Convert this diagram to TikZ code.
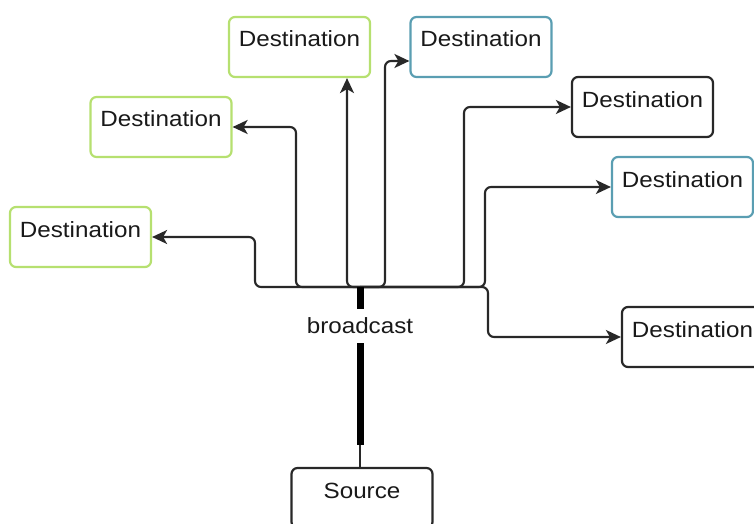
\documentclass[tikz,border=0pt]{standalone}
\usepackage{fontspec}
\setmainfont{Liberation Sans}[FakeStretch=1.1]
\usetikzlibrary{arrows.meta,calc}
\definecolor{grn}{RGB}{182,224,112}
\definecolor{blu}{RGB}{90,158,178}
\definecolor{blk}{RGB}{40,40,40}
\definecolor{txt}{RGB}{25,25,25}
\begin{document}
\begin{tikzpicture}[x=1pt,y=-1pt,
  box/.style={draw, line width=2.2pt, rounded corners=6pt, minimum width=141pt,
    minimum height=60pt, inner sep=0pt, fill=white, text=txt,
    font=\fontsize{22}{26}\selectfont},
  gbox/.style={box, draw=grn},
  bbox/.style={box, draw=blu},
  kbox/.style={box, draw=blk},
  conn/.style={line width=2.1pt, draw=blk, rounded corners=6pt,
    -{Stealth[length=15pt,width=14pt,inset=4pt]}},
  bus/.style={line width=7pt, draw=black},
  lbl/.style={inner xsep=0pt, inner ysep=9pt, text=txt, font=\fontsize{22}{26}\selectfont}]
\useasboundingbox (0,0) rectangle (754,524);

\node[gbox] (d1) at (299.5,47) {\smash{Destination}};
\node[bbox] (d2) at (481,47) {\smash{Destination}};
\node[gbox] (d3) at (161,127) {\smash{Destination}};
\node[gbox] (d4) at (80.5,237) {\smash{Destination}};
\node[kbox] (d5) at (642.5,107) {\smash{Destination}};
\node[bbox] (d6) at (682.5,187) {\smash{Destination}};
\node[kbox] (d7) at (692.5,337) {\smash{Destination}};
\node[kbox] (src) at (362,498) {\smash{Source}};

\coordinate (hub) at (360,287);
\node[lbl] (bc) at (360,326) {broadcast};
\coordinate (jt) at (360,445);

\coordinate (k1) at (347,287);
\coordinate (k2) at (385,61);
\coordinate (k3) at (296,127);
\coordinate (k4) at (255,237);
\coordinate (k5) at (464,107);
\coordinate (k6) at (485,187);
\coordinate (k7) at (488,337);

\draw[conn] (hub) -| (k4) -- (d4.east);
\draw[conn] (hub) -| (k3) -- (d3.east);
\draw[conn] (hub) -| (k1 |- d1.south);
\draw[conn] (hub) -| (k2) -- (k2 -| d2.west);
\draw[conn] (hub) -| (k5) -- (d5.west);
\draw[conn] (hub) -| (k6) -- (d6.west);
\draw[conn] (hub) -| (k7) -- (d7.west);

\draw[bus] (hub) -- (bc.north);
\draw[bus] (bc.south) -- (jt);
\draw[line width=1.6pt, draw=blk] (jt) -- (jt |- src.north);
\end{tikzpicture}
\end{document}
